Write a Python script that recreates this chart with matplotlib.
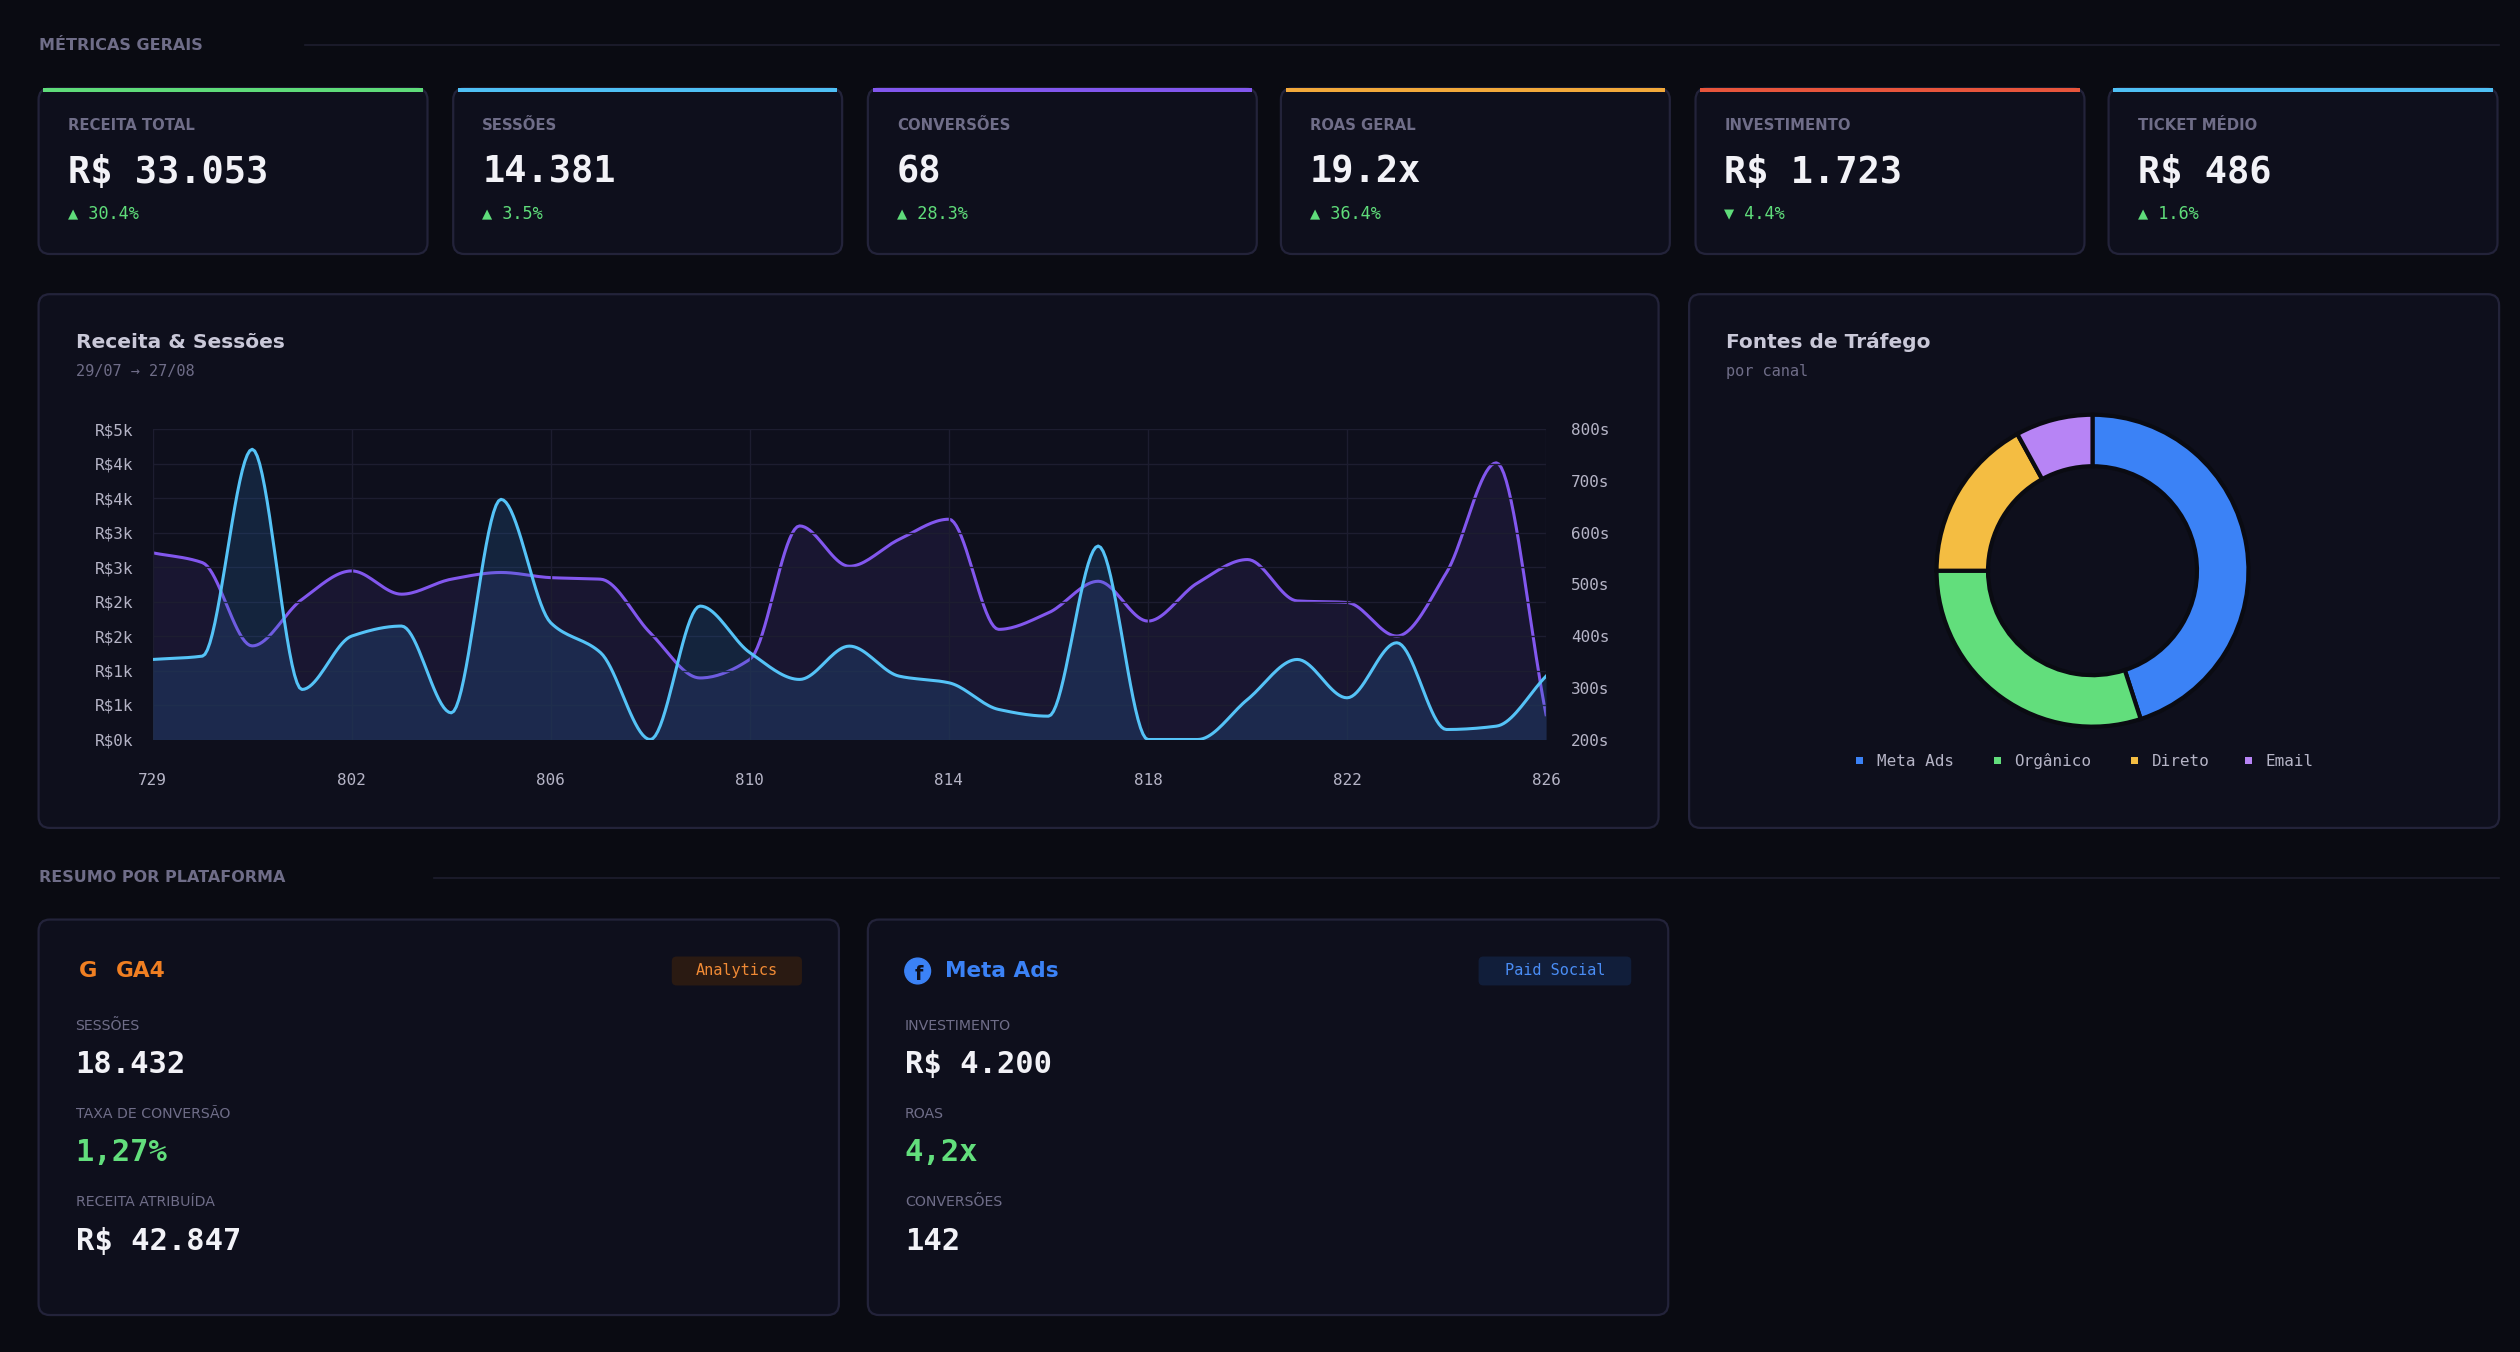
import numpy as np
import matplotlib.pyplot as plt
from matplotlib.patches import FancyBboxPatch, Rectangle

# ---- data ----
kpi_labels = ["RECEITA TOTAL", "SESSÕES", "CONVERSÕES", "ROAS GERAL", "INVESTIMENTO", "TICKET MÉDIO"]
kpi_values = ["R$ 33.053", "14.381", "68", "19.2x", "R$ 1.723", "R$ 486"]
kpi_deltas = ["▲ 30.4%", "▲ 3.5%", "▲ 28.3%", "▲ 36.4%", "▼ 4.4%", "▲ 1.6%"]
kpi_colors = ["#5fdc7a", "#4fc0f5", "#8257ee", "#f2a93b", "#e8553c", "#4fc0f5"]

days = ["729", "730", "731", "801", "802", "803", "804", "805", "806", "807",
        "808", "809", "810", "811", "812", "813", "814", "815", "816", "817",
        "818", "819", "820", "821", "822", "823", "824", "825", "826"]
receita = [1290, 1344, 4677, 806, 1667, 1828, 430, 3870, 1880, 1400,
           0, 2150, 1400, 968, 1505, 1021, 914, 484, 376, 3118,
           0, 0, 645, 1290, 672, 1559, 161, 215, 1021]
sessoes = [561, 542, 381, 471, 526, 481, 510, 523, 513, 510,
           406, 319, 355, 613, 535, 587, 626, 413, 445, 506,
           429, 503, 548, 468, 465, 400, 523, 735, 248]
left_ticks = [0, 556, 1111, 1667, 2222, 2778, 3333, 3889, 4444, 5000]
left_labels = ["R$0k", "R$1k", "R$1k", "R$2k", "R$2k", "R$3k", "R$3k", "R$4k", "R$4k", "R$5k"]
right_ticks = [200, 300, 400, 500, 600, 700, 800]

fontes = ["Meta Ads", "Orgânico", "Direto", "Email"]
fontes_share = [45, 30, 17, 8]
fontes_colors = ["#3b82f6", "#62de7c", "#f4bd42", "#b784f5"]

W, H = 1568, 841
BG = "#0a0b12"
CARD = "#0e0f1c"
EDGE = "#23233a"
MUTED = "#6f6d88"
WHITE = "#f2f2f7"
MONO = "DejaVu Sans Mono"
PT = 1.157  # display px -> pt

fig = plt.figure(figsize=(25.2, 13.52), dpi=100, facecolor=BG)
bg = fig.add_axes([0, 0, 1, 1])
bg.set_xlim(0, W)
bg.set_ylim(H, 0)
bg.axis("off")


def card(x0, y0, x1, y1, accent=None):
    bg.add_patch(FancyBboxPatch((x0, y0), x1 - x0, y1 - y0, boxstyle="round,pad=0,rounding_size=7",
                                fc=CARD, ec=EDGE, lw=1.6, zorder=1))
    if accent:
        bg.add_patch(Rectangle((x0 + 3, y0), x1 - x0 - 6, 2.5, fc=accent, ec="none", zorder=2))


def txt(x, y, s, size, color, **kw):
    bg.text(x, y, s, fontsize=size * PT, color=color, va="center", ha=kw.pop("ha", "left"), zorder=3, **kw)


def section(y, title, x_line):
    txt(24, y, title, 10, MUTED, fontweight="bold")
    bg.plot([x_line, 1555], [y, y], color="#1e1e2e", lw=1.2, zorder=1)


section(28, "MÉTRICAS GERAIS", 190)
section(546, "RESUMO POR PLATAFORMA", 270)

# KPI cards
xs = [24, 282, 540, 797, 1055, 1312]
for i, x0 in enumerate(xs):
    card(x0, 55, x0 + 242, 158, kpi_colors[i])
    txt(x0 + 18, 78, kpi_labels[i], 9.3, MUTED, fontweight="bold")
    txt(x0 + 18, 107, kpi_values[i], 23, WHITE, family=MONO, fontweight="bold")
    txt(x0 + 18, 133, kpi_deltas[i], 10.5, "#5fdc7a", family=MONO)

# chart cards
card(24, 183, 1032, 515)
txt(47, 213, "Receita & Sessões", 12.5, "#c9c8d8", fontweight="bold")
txt(47, 231, "29/07 → 27/08", 9.5, MUTED, family=MONO)
card(1051, 183, 1555, 515)
txt(1074, 213, "Fontes de Tráfego", 12.5, "#c9c8d8", fontweight="bold")
txt(1074, 231, "por canal", 9.5, MUTED, family=MONO)


def smooth(y, n=20):
    # monotone cubic hermite for rendering
    y = np.asarray(y, float)
    x = np.arange(len(y))
    d = np.diff(y)
    m = np.zeros_like(y)
    m[0], m[-1] = d[0], d[-1]
    for k in range(1, len(y) - 1):
        m[k] = 0 if d[k - 1] * d[k] <= 0 else 2 / (1 / d[k - 1] + 1 / d[k])
    xx, yy = [], []
    for k in range(len(y) - 1):
        t = np.linspace(0, 1, n, endpoint=False)
        h00 = 2 * t**3 - 3 * t**2 + 1
        h10 = t**3 - 2 * t**2 + t
        h01 = -2 * t**3 + 3 * t**2
        h11 = t**3 - t**2
        xx.append(k + t)
        yy.append(h00 * y[k] + h10 * m[k] + h01 * y[k + 1] + h11 * m[k + 1])
    xx.append([x[-1]])
    yy.append([y[-1]])
    return np.concatenate(xx), np.concatenate(yy)


ax = fig.add_axes([95 / W, 1 - 460 / H, 867 / W, 193 / H])
ax.set_facecolor("none")
ax2 = ax.twinx()
x = np.arange(len(days))

sx, sy = smooth(sessoes)
ax2.fill_between(sx, 200, sy, color="#8257ee", alpha=0.10, lw=0)
ax2.plot(sx, sy, color="#8257ee", lw=2.2)
ax2.set_ylim(200, 800)
ax2.set_yticks(right_ticks)
ax2.set_yticklabels([f"{v}s" for v in right_ticks])

rx, ry = smooth(receita)
ry = np.clip(ry, 0, None)
ax.fill_between(rx, 0, ry, color="#2a6fb5", alpha=0.22, lw=0, zorder=3)
ax.plot(rx, ry, color="#55c3f7", lw=2.2, zorder=4)
ax.set_ylim(0, 5000)
ax.set_xlim(0, len(days) - 1)
ax.set_yticks(left_ticks)
ax.set_yticklabels(left_labels)
ax.set_xticks(x[::4])
ax.set_xticklabels(days[::4])
ax.grid(True, color="#1d1d30", lw=1)
ax.set_zorder(ax2.get_zorder() + 1)
for a in (ax, ax2):
    for sp in a.spines.values():
        sp.set_visible(False)
    a.tick_params(length=0, colors="#b5b4c6", labelsize=10 * PT, pad=14)
    for lab in a.get_xticklabels() + a.get_yticklabels():
        lab.set_family(MONO)
ax.tick_params(axis="x", pad=24)
ax2.tick_params(axis="y", pad=18)

# donut
r = 98
dax = fig.add_axes([(1302 - r) / W, 1 - (355 + r) / H, 2 * r / W, 2 * r / H])
dax.pie(fontes_share, colors=fontes_colors, startangle=90, counterclock=False,
        radius=1.0, wedgeprops=dict(width=0.33, edgecolor="#0a0b12", linewidth=3))
dax.set_xlim(-1.01, 1.01)
dax.set_ylim(-1.01, 1.01)
dax.set_aspect("equal")
dax.axis("off")
lx = 1155
for name, col in zip(fontes, fontes_colors):
    bg.add_patch(Rectangle((lx, 471), 4.5, 4.5, fc=col, ec="none", zorder=3))
    bg.text(lx + 13, 473.5, name, fontsize=10 * PT, color="#b5b4c6", family=MONO, va="center", zorder=3)
    lx += 13 + len(name) * 7.3 + 14

# platform cards
platforms = [
    (24, "G", "GA4", "#f07f22", "Analytics", "#2a1a12", "#f08a35",
     [("SESSÕES", "18.432", WHITE), ("TAXA DE CONVERSÃO", "1,27%", "#62de7c"), ("RECEITA ATRIBUÍDA", "R$ 42.847", WHITE)]),
    (540, "f", "Meta Ads", "#3b82f6", "Paid Social", "#111e3a", "#4a8df5",
     [("INVESTIMENTO", "R$ 4.200", WHITE), ("ROAS", "4,2x", "#62de7c"), ("CONVERSÕES", "142", WHITE)]),
]
for x0, icon, name, col, tag, tagbg, tagfg, rows in platforms:
    card(x0, 572, x0 + 498, 818)
    if icon == "f":
        bg.add_patch(plt.Circle((x0 + 31, 604), 8, color=col, zorder=3))
        txt(x0 + 31.5, 606, "f", 12, CARD, ha="center", fontweight="bold")
    else:
        txt(x0 + 31, 604, icon, 14, col, ha="center", fontweight="bold")
    txt(x0 + 48, 604, name, 13.5, col, fontweight="bold")
    tw = len(tag) * 7.0 + 18
    bg.add_patch(FancyBboxPatch((x0 + 475 - tw, 595), tw, 18, boxstyle="round,pad=0,rounding_size=3",
                                fc=tagbg, ec="none", zorder=2))
    txt(x0 + 475 - tw / 2, 604, tag, 9.5, tagfg, ha="center", family=MONO)
    for j, (lab, val, vc) in enumerate(rows):
        y = 638 + j * 55
        txt(x0 + 23, y, lab, 8.8, MUTED)
        txt(x0 + 23, y + 24, val, 19, vc, family=MONO, fontweight="bold")

fig.savefig("out.png", dpi=100, facecolor=BG)
